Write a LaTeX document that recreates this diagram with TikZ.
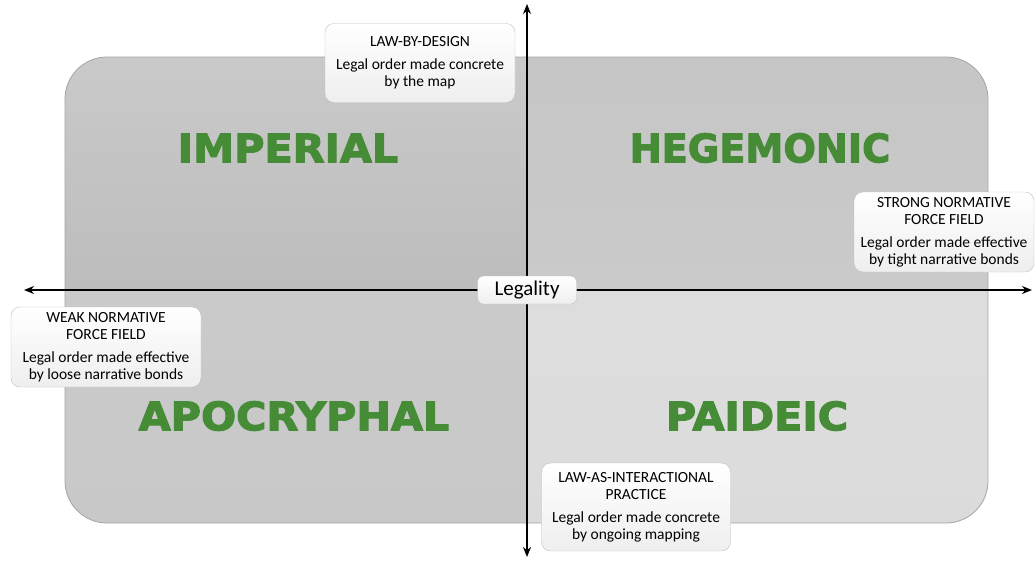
\documentclass[tikz,border=0pt]{standalone}
\usepackage{fontspec}
\setmainfont{Carlito}
\newfontfamily\quadfont[FakeBold=3,FakeStretch=1.06]{DejaVu Sans Bold}
\usetikzlibrary{arrows.meta}

\definecolor{leafgreen}{RGB}{70,140,55}
\definecolor{rimgray}{RGB}{165,165,165}

\tikzset{
  quadlabel/.style={font=\quadfont\fontsize{39}{39}\selectfont, text=leafgreen},
  notebox/.style={draw=gray!50, rounded corners=9pt, top color=white,
    bottom color=gray!13, align=center, inner sep=4pt,
    font=\fontsize{15.5}{17}\selectfont},
  axis/.style={line width=1.7pt,
    {Stealth[length=10pt,width=8pt]}-{Stealth[length=10pt,width=8pt]}},
}

\begin{document}
\begin{tikzpicture}[x=1pt,y=-1pt]
  \useasboundingbox (0,0) rectangle (1036,560);

  % the four quadrants, cut from one rounded field
  \foreach \xa/\ya/\xb/\yb/\ct/\cb in {%
      65/57/527/290/gray!42/gray!62,
      527/57/988/290/gray!45/gray!38,
      65/290/527/523/gray!40/gray!43,
      527/290/988/523/gray!25/gray!28} {
    \begin{scope}
      \clip (\xa,\ya) rectangle (\xb,\yb);
      \shade[top color=\ct, bottom color=\cb, rounded corners=42pt]
        (65,57) rectangle (988,523);
    \end{scope}
  }
  \draw[rimgray, line width=0.8pt, rounded corners=42pt] (65,57) rectangle (988,523);

  % quadrant names
  \foreach \x/\y/\s/\name in {%
      288/148/1/IMPERIAL,
      760/148/0.925/HEGEMONIC,
      294/416/1/APOCRYPHAL,
      757/416/1/PAIDEIC} {
    \node[quadlabel, xscale=\s, transform shape] at (\x,\y) {\name};
  }

  % axes
  \coordinate (west) at (24,290);
  \coordinate (east) at (1032,290);
  \coordinate (north) at (527,4);
  \coordinate (south) at (527,557);
  \draw[axis] (west) -- (east);
  \draw[axis] (south) -- (north);

  \node[notebox, font=\fontsize{21}{22}\selectfont, minimum width=99pt,
    minimum height=28pt, rounded corners=6pt] (legality) at (527,290) {Legality};

  % the four notes
  \node[notebox, minimum width=190pt, minimum height=79pt] (design) at (420,63)
    {LAW-BY-DESIGN\\[6pt] Legal order made concrete\\ by the map};
  \node[notebox, minimum width=180pt, minimum height=80pt] (strong) at (944,232)
    {STRONG NORMATIVE\\ FORCE FIELD\\[6pt] Legal order made effective\\ by tight narrative bonds};
  \node[notebox, minimum width=190pt, minimum height=80pt] (weak) at (106,347)
    {WEAK NORMATIVE\\ FORCE FIELD\\[6pt] Legal order made effective\\ by loose narrative bonds};
  \node[notebox, minimum width=189pt, minimum height=88pt] (practice) at (636,507)
    {LAW-AS-INTERACTIONAL\\ PRACTICE\\[6pt] Legal order made concrete\\ by ongoing mapping};
\end{tikzpicture}
\end{document}
